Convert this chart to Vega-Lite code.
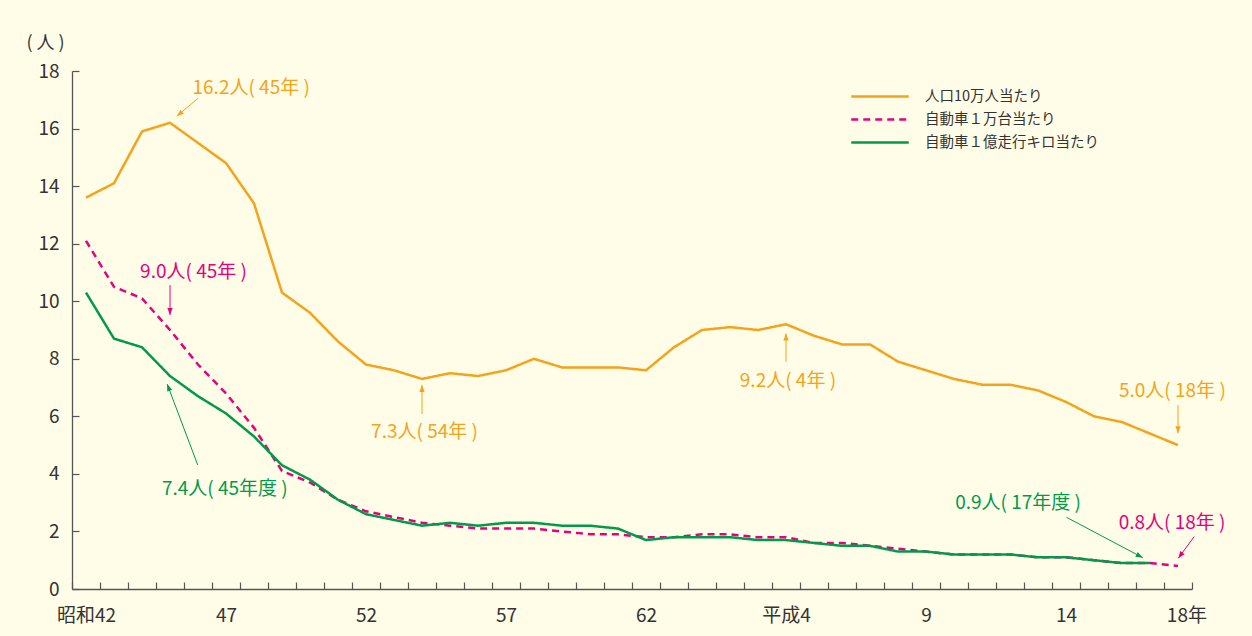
{
  "$schema": "https://vega.github.io/schema/vega-lite/v6.json",
  "width": 1120,
  "height": 518,
  "autosize": {"type": "none"},
  "padding": {"left": 72, "top": 71, "right": 60, "bottom": 47},
  "background": "#FFFDE8",
  "config": {
    "view": {"stroke": null},
    "font": "Noto Sans CJK JP",
    "axis": {
      "labelFont": "Noto Sans CJK JP", "titleFont": "Noto Sans CJK JP", "grid": false,
      "labelFontSize": 19, "labelColor": "#333333",
      "tickSize": -7, "tickColor": "#555555", "tickWidth": 1.2,
      "domainColor": "#555555", "domainWidth": 1.3,
      "labelOverlap": false, "labelBound": false, "labelFlush": false
    },
    "axisY": {
      "labelPadding": 20,
      "titleAngle": 0, "titleX": -27, "titleY": -28, "titleAlign": "center", "titleBaseline": "middle",
      "titleFontSize": 18, "titleFontWeight": "normal", "titleColor": "#333333"
    },
    "legend": {
      "labelFont": "Noto Sans CJK JP", "labelFontSize": 14.5, "labelColor": "#333333", "labelLimit": 0
    }
  },
  "resolve": {"axis": {"x": "independent"}},
  "datasets": {
    "lines": [
      {"year": 1967, "series": "人口10万人当たり", "value": 13.6},
      {"year": 1968, "series": "人口10万人当たり", "value": 14.1},
      {"year": 1969, "series": "人口10万人当たり", "value": 15.9},
      {"year": 1970, "series": "人口10万人当たり", "value": 16.2},
      {"year": 1971, "series": "人口10万人当たり", "value": 15.5},
      {"year": 1972, "series": "人口10万人当たり", "value": 14.8},
      {"year": 1973, "series": "人口10万人当たり", "value": 13.4},
      {"year": 1974, "series": "人口10万人当たり", "value": 10.3},
      {"year": 1975, "series": "人口10万人当たり", "value": 9.6},
      {"year": 1976, "series": "人口10万人当たり", "value": 8.6},
      {"year": 1977, "series": "人口10万人当たり", "value": 7.8},
      {"year": 1978, "series": "人口10万人当たり", "value": 7.6},
      {"year": 1979, "series": "人口10万人当たり", "value": 7.3},
      {"year": 1980, "series": "人口10万人当たり", "value": 7.5},
      {"year": 1981, "series": "人口10万人当たり", "value": 7.4},
      {"year": 1982, "series": "人口10万人当たり", "value": 7.6},
      {"year": 1983, "series": "人口10万人当たり", "value": 8.0},
      {"year": 1984, "series": "人口10万人当たり", "value": 7.7},
      {"year": 1985, "series": "人口10万人当たり", "value": 7.7},
      {"year": 1986, "series": "人口10万人当たり", "value": 7.7},
      {"year": 1987, "series": "人口10万人当たり", "value": 7.6},
      {"year": 1988, "series": "人口10万人当たり", "value": 8.4},
      {"year": 1989, "series": "人口10万人当たり", "value": 9.0},
      {"year": 1990, "series": "人口10万人当たり", "value": 9.1},
      {"year": 1991, "series": "人口10万人当たり", "value": 9.0},
      {"year": 1992, "series": "人口10万人当たり", "value": 9.2},
      {"year": 1993, "series": "人口10万人当たり", "value": 8.8},
      {"year": 1994, "series": "人口10万人当たり", "value": 8.5},
      {"year": 1995, "series": "人口10万人当たり", "value": 8.5},
      {"year": 1996, "series": "人口10万人当たり", "value": 7.9},
      {"year": 1997, "series": "人口10万人当たり", "value": 7.6},
      {"year": 1998, "series": "人口10万人当たり", "value": 7.3},
      {"year": 1999, "series": "人口10万人当たり", "value": 7.1},
      {"year": 2000, "series": "人口10万人当たり", "value": 7.1},
      {"year": 2001, "series": "人口10万人当たり", "value": 6.9},
      {"year": 2002, "series": "人口10万人当たり", "value": 6.5},
      {"year": 2003, "series": "人口10万人当たり", "value": 6.0},
      {"year": 2004, "series": "人口10万人当たり", "value": 5.8},
      {"year": 2005, "series": "人口10万人当たり", "value": 5.4},
      {"year": 2006, "series": "人口10万人当たり", "value": 5.0},
      {"year": 1967, "series": "自動車１万台当たり", "value": 12.1},
      {"year": 1968, "series": "自動車１万台当たり", "value": 10.5},
      {"year": 1969, "series": "自動車１万台当たり", "value": 10.1},
      {"year": 1970, "series": "自動車１万台当たり", "value": 9.0},
      {"year": 1971, "series": "自動車１万台当たり", "value": 7.8},
      {"year": 1972, "series": "自動車１万台当たり", "value": 6.8},
      {"year": 1973, "series": "自動車１万台当たり", "value": 5.6},
      {"year": 1974, "series": "自動車１万台当たり", "value": 4.1},
      {"year": 1975, "series": "自動車１万台当たり", "value": 3.7},
      {"year": 1976, "series": "自動車１万台当たり", "value": 3.1},
      {"year": 1977, "series": "自動車１万台当たり", "value": 2.7},
      {"year": 1978, "series": "自動車１万台当たり", "value": 2.5},
      {"year": 1979, "series": "自動車１万台当たり", "value": 2.3},
      {"year": 1980, "series": "自動車１万台当たり", "value": 2.2},
      {"year": 1981, "series": "自動車１万台当たり", "value": 2.1},
      {"year": 1982, "series": "自動車１万台当たり", "value": 2.1},
      {"year": 1983, "series": "自動車１万台当たり", "value": 2.1},
      {"year": 1984, "series": "自動車１万台当たり", "value": 2.0},
      {"year": 1985, "series": "自動車１万台当たり", "value": 1.9},
      {"year": 1986, "series": "自動車１万台当たり", "value": 1.9},
      {"year": 1987, "series": "自動車１万台当たり", "value": 1.8},
      {"year": 1988, "series": "自動車１万台当たり", "value": 1.8},
      {"year": 1989, "series": "自動車１万台当たり", "value": 1.9},
      {"year": 1990, "series": "自動車１万台当たり", "value": 1.9},
      {"year": 1991, "series": "自動車１万台当たり", "value": 1.8},
      {"year": 1992, "series": "自動車１万台当たり", "value": 1.8},
      {"year": 1993, "series": "自動車１万台当たり", "value": 1.6},
      {"year": 1994, "series": "自動車１万台当たり", "value": 1.6},
      {"year": 1995, "series": "自動車１万台当たり", "value": 1.5},
      {"year": 1996, "series": "自動車１万台当たり", "value": 1.4},
      {"year": 1997, "series": "自動車１万台当たり", "value": 1.3},
      {"year": 1998, "series": "自動車１万台当たり", "value": 1.2},
      {"year": 1999, "series": "自動車１万台当たり", "value": 1.2},
      {"year": 2000, "series": "自動車１万台当たり", "value": 1.2},
      {"year": 2001, "series": "自動車１万台当たり", "value": 1.1},
      {"year": 2002, "series": "自動車１万台当たり", "value": 1.1},
      {"year": 2003, "series": "自動車１万台当たり", "value": 1.0},
      {"year": 2004, "series": "自動車１万台当たり", "value": 0.9},
      {"year": 2005, "series": "自動車１万台当たり", "value": 0.9},
      {"year": 2006, "series": "自動車１万台当たり", "value": 0.8},
      {"year": 1967, "series": "自動車１億走行キロ当たり", "value": 10.3},
      {"year": 1968, "series": "自動車１億走行キロ当たり", "value": 8.7},
      {"year": 1969, "series": "自動車１億走行キロ当たり", "value": 8.4},
      {"year": 1970, "series": "自動車１億走行キロ当たり", "value": 7.4},
      {"year": 1971, "series": "自動車１億走行キロ当たり", "value": 6.7},
      {"year": 1972, "series": "自動車１億走行キロ当たり", "value": 6.1},
      {"year": 1973, "series": "自動車１億走行キロ当たり", "value": 5.3},
      {"year": 1974, "series": "自動車１億走行キロ当たり", "value": 4.3},
      {"year": 1975, "series": "自動車１億走行キロ当たり", "value": 3.8},
      {"year": 1976, "series": "自動車１億走行キロ当たり", "value": 3.1},
      {"year": 1977, "series": "自動車１億走行キロ当たり", "value": 2.6},
      {"year": 1978, "series": "自動車１億走行キロ当たり", "value": 2.4},
      {"year": 1979, "series": "自動車１億走行キロ当たり", "value": 2.2},
      {"year": 1980, "series": "自動車１億走行キロ当たり", "value": 2.3},
      {"year": 1981, "series": "自動車１億走行キロ当たり", "value": 2.2},
      {"year": 1982, "series": "自動車１億走行キロ当たり", "value": 2.3},
      {"year": 1983, "series": "自動車１億走行キロ当たり", "value": 2.3},
      {"year": 1984, "series": "自動車１億走行キロ当たり", "value": 2.2},
      {"year": 1985, "series": "自動車１億走行キロ当たり", "value": 2.2},
      {"year": 1986, "series": "自動車１億走行キロ当たり", "value": 2.1},
      {"year": 1987, "series": "自動車１億走行キロ当たり", "value": 1.7},
      {"year": 1988, "series": "自動車１億走行キロ当たり", "value": 1.8},
      {"year": 1989, "series": "自動車１億走行キロ当たり", "value": 1.8},
      {"year": 1990, "series": "自動車１億走行キロ当たり", "value": 1.8},
      {"year": 1991, "series": "自動車１億走行キロ当たり", "value": 1.7},
      {"year": 1992, "series": "自動車１億走行キロ当たり", "value": 1.7},
      {"year": 1993, "series": "自動車１億走行キロ当たり", "value": 1.6},
      {"year": 1994, "series": "自動車１億走行キロ当たり", "value": 1.5},
      {"year": 1995, "series": "自動車１億走行キロ当たり", "value": 1.5},
      {"year": 1996, "series": "自動車１億走行キロ当たり", "value": 1.3},
      {"year": 1997, "series": "自動車１億走行キロ当たり", "value": 1.3},
      {"year": 1998, "series": "自動車１億走行キロ当たり", "value": 1.2},
      {"year": 1999, "series": "自動車１億走行キロ当たり", "value": 1.2},
      {"year": 2000, "series": "自動車１億走行キロ当たり", "value": 1.2},
      {"year": 2001, "series": "自動車１億走行キロ当たり", "value": 1.1},
      {"year": 2002, "series": "自動車１億走行キロ当たり", "value": 1.1},
      {"year": 2003, "series": "自動車１億走行キロ当たり", "value": 1.0},
      {"year": 2004, "series": "自動車１億走行キロ当たり", "value": 0.9},
      {"year": 2005, "series": "自動車１億走行キロ当たり", "value": 0.9}
    ],
    "notes": [
      {"label": "16.2人( 45年 )", "series": "人口10万人当たり", "x": 1972.9, "y": 17.41},
      {"label": "9.0人( 45年 )", "series": "自動車１万台当たり", "x": 1970.84, "y": 11.01},
      {"label": "7.4人( 45年度 )", "series": "自動車１億走行キロ当たり", "x": 1971.96, "y": 3.46},
      {"label": "7.3人( 54年 )", "series": "人口10万人当たり", "x": 1979.09, "y": 5.44},
      {"label": "9.2人( 4年 )", "series": "人口10万人当たり", "x": 1992.07, "y": 7.23},
      {"label": "5.0人( 18年 )", "series": "人口10万人当たり", "x": 2005.8, "y": 6.88},
      {"label": "0.9人( 17年度 )", "series": "自動車１億走行キロ当たり", "x": 2000.29, "y": 2.99},
      {"label": "0.8人( 18年 )", "series": "自動車１万台当たり", "x": 2005.79, "y": 2.31}
    ],
    "arrows": [
      {"series": "人口10万人当たり", "x": 1971.0, "y": 17.05, "x2": 1970.24, "y2": 16.43},
      {"series": "自動車１万台当たり", "x": 1970.0, "y": 10.56, "x2": 1970.0, "y2": 9.52},
      {"series": "自動車１億走行キロ当たり", "x": 1970.99, "y": 4.31, "x2": 1969.9, "y2": 7.12},
      {"series": "人口10万人当たり", "x": 1979.0, "y": 6.08, "x2": 1979.0, "y2": 7.09},
      {"series": "人口10万人当たり", "x": 1992.0, "y": 7.9, "x2": 1992.0, "y2": 8.88},
      {"series": "人口10万人当たり", "x": 2006.0, "y": 6.39, "x2": 2006.0, "y2": 5.41},
      {"series": "自動車１億走行キロ当たり", "x": 2002.02, "y": 2.49, "x2": 2004.74, "y2": 1.09},
      {"series": "自動車１万台当たり", "x": 2006.58, "y": 1.82, "x2": 2006.01, "y2": 1.07}
    ]
  },
  "layer": [
    {
      "data": {"name": "lines"},
      "mark": {"type": "line", "strokeWidth": 2.5, "strokeJoin": "miter"},
      "encoding": {
        "x": {
          "field": "year", "type": "quantitative", "title": null,
          "scale": {"domain": [1966.5, 2006.5], "nice": false, "zero": false},
          "axis": {
            "orient": "bottom",
            "values": [1966.5,1967.5,1968.5,1969.5,1970.5,1971.5,1972.5,1973.5,1974.5,1975.5,1976.5,1977.5,1978.5,1979.5,1980.5,1981.5,1982.5,1983.5,1984.5,1985.5,1986.5,1987.5,1988.5,1989.5,1990.5,1991.5,1992.5,1993.5,1994.5,1995.5,1996.5,1997.5,1998.5,1999.5,2000.5,2001.5,2002.5,2003.5,2004.5,2005.5,2006.5],
            "labels": false
          }
        },
        "y": {
          "field": "value", "type": "quantitative", "title": "( 人 )",
          "scale": {"domain": [0, 18], "nice": false},
          "axis": {"values": [0, 2, 4, 6, 8, 10, 12, 14, 16, 18]}
        },
        "color": {
          "field": "series", "type": "nominal",
          "scale": {"domain": ["人口10万人当たり", "自動車１万台当たり", "自動車１億走行キロ当たり"], "range": ["#F5A31A", "#E5007F", "#009A4A"]},
          "legend": {
            "title": null,
            "orient": "none",
            "legendX": 795,
            "legendY": 12.5,
            "symbolType": "M-2.5,0H2.5",
            "symbolSize": 529,
            "symbolStrokeWidth": 2.5,
            "labelOffset": 32,
            "rowPadding": 3
          }
        },
        "strokeDash": {
          "field": "series", "type": "nominal",
          "scale": {"domain": ["人口10万人当たり", "自動車１万台当たり", "自動車１億走行キロ当たり"], "range": [[1, 0], [7, 5], [1, 0]]},
          "legend": {
            "title": null,
            "orient": "none",
            "legendX": 795,
            "legendY": 12.5,
            "symbolType": "M-2.5,0H2.5",
            "symbolSize": 529,
            "symbolStrokeWidth": 2.5,
            "labelOffset": 32,
            "rowPadding": 3
          }
        }
      }
    },
    {
      "data": {"name": "arrows"},
      "mark": {"type": "rule", "strokeWidth": 1},
      "encoding": {
        "x": {"field": "x", "type": "quantitative", "title": null, "axis": null},
        "y": {"field": "y", "type": "quantitative", "title": "( 人 )"},
        "x2": {"field": "x2"},
        "y2": {"field": "y2"},
        "color": {"field": "series", "type": "nominal"}
      }
    },
    {
      "data": {"name": "arrows"},
      "transform": [
        {"calculate": "atan2((datum.x2 - datum.x) * 28, (datum.y2 - datum.y) * 28.78) * 180 / PI", "as": "ang"}
      ],
      "mark": {"type": "point", "filled": true, "opacity": 1, "size": 196, "shape": "M0,0L-0.38,1L0.38,1Z", "strokeWidth": 0},
      "encoding": {
        "x": {"field": "x2", "type": "quantitative", "title": null, "axis": null},
        "y": {"field": "y2", "type": "quantitative", "title": "( 人 )"},
        "angle": {"field": "ang", "type": "quantitative", "scale": null},
        "color": {"field": "series", "type": "nominal"}
      }
    },
    {
      "data": {"name": "notes"},
      "mark": {"type": "text", "fontSize": 19, "font": "Noto Sans CJK JP", "align": "center", "baseline": "middle"},
      "encoding": {
        "x": {
          "field": "x", "type": "quantitative", "title": null,
          "axis": {
            "orient": "bottom",
            "values": [1966.5, 1971.5, 1976.5, 1981.5, 1986.5, 1991.5, 1996.5, 2001.5, 2005.8],
            "labelExpr": "datum.value == 1966.5 ? '昭和42' : datum.value == 1991.5 ? '平成4' : datum.value > 2005 ? '18年' : datum.value < 1990 ? format(datum.value - 1924.5, 'd') : format(datum.value - 1987.5, 'd')",
            "labelOffset": 14,
            "ticks": false,
            "tickSize": 0,
            "domain": false,
            "labelPadding": 17,
            "labelOverlap": false
          }
        },
        "y": {"field": "y", "type": "quantitative", "title": "( 人 )"},
        "text": {"field": "label"},
        "color": {"field": "series", "type": "nominal"}
      }
    }
  ]
}
